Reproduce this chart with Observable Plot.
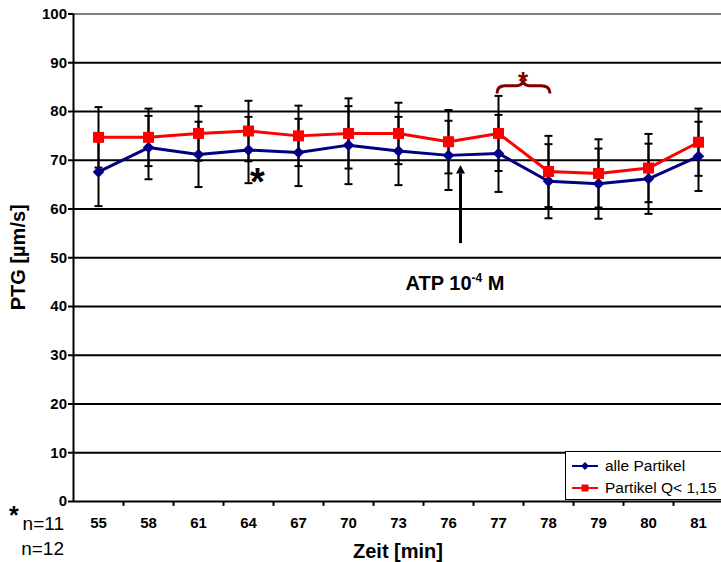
<!DOCTYPE html>
<html>
<head>
<meta charset="utf-8">
<script src="https://cdn.jsdelivr.net/npm/d3@7"></script>
<script src="https://cdn.jsdelivr.net/npm/@observablehq/plot@0.6"></script>
<style>
  body { margin: 0; background: #fff; }
  #chart { width: 721px; height: 562px; overflow: hidden; }
</style>
</head>
<body>
<div id="chart"></div>
<script>
// ---- data ----
const categories = ["55", "58", "61", "64", "67", "70", "73", "76", "77", "78", "79", "80", "81"];
const seriesNames = ["alle Partikel", "Partikel Q< 1,15"];
const alleMean = [67.6, 72.6, 71.2, 72.1, 71.6, 73.1, 71.9, 71.0, 71.4, 65.7, 65.2, 66.2, 70.8];
const alleErr  = [7.0, 6.5, 6.7, 6.8, 6.9, 8.0, 7.0, 7.1, 7.9, 7.6, 7.2, 7.2, 7.1];
const qMean    = [74.7, 74.7, 75.5, 76.0, 75.0, 75.5, 75.5, 73.8, 75.5, 67.7, 67.3, 68.4, 73.7];
const qErr     = [6.2, 5.9, 5.6, 6.2, 6.2, 7.2, 6.3, 6.5, 7.7, 7.3, 7.0, 7.0, 6.9];
const yTicks = [0, 10, 20, 30, 40, 50, 60, 70, 80, 90, 100];
const xTitle = "Zeit [min]";
const yTitle = "PTG [µm/s]";
const nLabels = ["n=11", "n=12"];
const starCategory = "64";
const arrowCategory = "76";
const bracketCategories = ["77", "78"];

// ---- styles ----
const FONT = "'Liberation Sans', Arial, Helvetica, sans-serif";
const BLUE = "#000080", RED = "#FF0000", DARKRED = "#800000";
const colors = [BLUE, RED];

const rows = categories.flatMap((c, i) => [
  {cat: c, series: seriesNames[0], mean: alleMean[i], err: alleErr[i]},
  {cat: c, series: seriesNames[1], mean: qMean[i], err: qErr[i]}
]);
const step = 50;
const capSymbol = {draw(ctx, size) { const r = Math.sqrt(size / Math.PI); ctx.moveTo(-r, 0); ctx.lineTo(r, 0); }};

const plot = Plot.plot({
  width: 721, height: 562,
  marginLeft: 73, marginRight: 0, marginTop: 13, marginBottom: 61,
  x: {type: "point", domain: categories, range: [98, 698], padding: 0},
  y: {domain: [0, 100], range: [501, 13.5]},
  color: {domain: seriesNames, range: colors},
  style: {fontFamily: FONT, fontSize: "15px", fontWeight: "bold", color: "black", background: "white", overflow: "visible"},
  marks: [
    Plot.ruleY(yTicks.filter(v => v > 0 && v < 100), {stroke: "black", strokeWidth: 2}),
    Plot.ruleY([100], {stroke: "#808080", strokeWidth: 2}),
    Plot.axisY({ticks: yTicks, tickSize: 5, tickPadding: 1.5, strokeWidth: 2, label: null, fontSize: 15, fontWeight: "bold"}),
    Plot.axisX({tickSize: 0, tickPadding: 16, label: null, fontSize: 15, fontWeight: "bold"}),
    // x boundary ticks and axis lines
    Plot.ruleX(categories, {x: d => d, dx: step / 2, y1: 0, y2: -1, stroke: "black", strokeWidth: 2}),
    Plot.ruleX([categories[0]], {x: d => d, dx: -step / 2, y1: 0, y2: 100, stroke: "black", strokeWidth: 2}),
    Plot.ruleY([0], {stroke: "black", strokeWidth: 2}),
    // error bars
    Plot.ruleX(rows, {x: "cat", y1: d => d.mean - d.err, y2: d => d.mean + d.err, stroke: "black", strokeWidth: 2}),
    Plot.dot(rows, {x: "cat", y: d => d.mean + d.err, symbol: capSymbol, r: 4, stroke: "black", strokeWidth: 2, fill: "none"}),
    Plot.dot(rows, {x: "cat", y: d => d.mean - d.err, symbol: capSymbol, r: 4, stroke: "black", strokeWidth: 2, fill: "none"}),
    // lines
    Plot.lineY(rows, {x: "cat", y: "mean", z: "series", stroke: "series", strokeWidth: 3}),
    Plot.dot(rows.filter(d => d.series === seriesNames[0]), {x: "cat", y: "mean", symbol: "diamond2", r: 5.2, fill: BLUE, stroke: "none"}),
    Plot.dot(rows.filter(d => d.series === seriesNames[1]), {x: "cat", y: "mean", symbol: "square", r: 6.2, fill: RED, stroke: "none"})
  ]
});
document.getElementById("chart").appendChild(plot);

// ---- annotations ----
const svg = d3.select(plot);
const X = v => plot.scale("x").apply(v);
const Y = v => plot.scale("y").apply(v);

// y title
svg.append("text")
  .attr("transform", `translate(25,${(Y(0) + Y(100)) / 2}) rotate(-90)`)
  .attr("text-anchor", "middle").attr("font-size", 20).attr("font-weight", "bold")
  .attr("fill", "black").text(yTitle);
// x title
svg.append("text")
  .attr("x", (X(categories[0]) + X(categories[categories.length - 1])) / 2).attr("y", 558)
  .attr("text-anchor", "middle").attr("font-size", 20).attr("font-weight", "bold")
  .attr("fill", "black").text(xTitle);

// n labels
svg.append("text").attr("x", 9).attr("y", 524).attr("text-anchor", "start")
  .attr("font-size", 25).attr("font-weight", "bold").text("*");
nLabels.forEach((t, i) => {
  svg.append("text").attr("x", 64).attr("y", 530 + 25 * i).attr("text-anchor", "end")
    .attr("font-size", 19).attr("font-weight", "normal").text(t);
});

// star near 64
svg.append("text").attr("x", X(starCategory) + 2).attr("y", Y(62.8)).attr("text-anchor", "start")
  .attr("font-size", 38).attr("font-weight", "bold").attr("fill", "black").text("*");

// arrow
const xa = X(arrowCategory) + 12.5;
svg.append("line").attr("x1", xa).attr("x2", xa).attr("y1", Y(52.9)).attr("y2", Y(67.2))
  .attr("stroke", "black").attr("stroke-width", 3);
const tip = Y(68.9);
svg.append("path").attr("d", `M${xa},${tip} L${xa - 4.5},${tip + 8.5} L${xa + 4.5},${tip + 8.5} Z`).attr("fill", "black");

// ATP label
const atp = svg.append("text").attr("x", X(arrowCategory) + 7).attr("y", Y(43.3))
  .attr("text-anchor", "middle").attr("font-size", 20).attr("font-weight", "bold").attr("fill", "black");
atp.append("tspan").text("ATP 10");
atp.append("tspan").attr("font-size", 12).attr("dy", -8).text("-4");
atp.append("tspan").attr("dy", 8).text(" M");

// significance bracket
const x1 = X(bracketCategories[0]), x2 = X(bracketCategories[1]), xm = (x1 + x2) / 2;
const yBar = Y(85.2), yEnd = Y(83.6), yPeak = Y(86.5);
svg.append("path")
  .attr("d", `M${x1 - 1},${yEnd} Q${x1 - 1},${yBar} ${x1 + 7},${yBar} L${xm - 6},${yBar} Q${xm},${yBar} ${xm},${yPeak} Q${xm},${yBar} ${xm + 6},${yBar} L${x2 - 7},${yBar} Q${x2 + 2},${yBar} ${x2 + 2},${yEnd}`)
  .attr("fill", "none").attr("stroke", DARKRED).attr("stroke-width", 3);
svg.append("text").attr("x", xm).attr("y", yPeak + 11).attr("text-anchor", "middle")
  .attr("font-size", 26).attr("font-weight", "bold").attr("fill", DARKRED).text("*");

// legend
const lg = svg.append("g").attr("font-weight", "normal").attr("font-size", 15.5).attr("text-anchor", "start");
lg.append("rect").attr("x", 565.5).attr("y", 451.5).attr("width", 170).attr("height", 48)
  .attr("fill", "white").attr("stroke", "black").attr("stroke-width", 1);
const legendSymbols = [d3.symbol(d3.symbolDiamond2, 40)(), d3.symbol(d3.symbolSquare, 49)()];
seriesNames.forEach((name, i) => {
  const yy = 466 + 22 * i;
  lg.append("line").attr("x1", 572).attr("x2", 598).attr("y1", yy).attr("y2", yy)
    .attr("stroke", colors[i]).attr("stroke-width", 2);
  lg.append("path").attr("d", legendSymbols[i]).attr("transform", `translate(585,${yy})`).attr("fill", colors[i]);
  lg.append("text").attr("x", 605).attr("y", yy).attr("dy", "0.35em").attr("fill", "black").text(name);
});
</script>
</body>
</html>
